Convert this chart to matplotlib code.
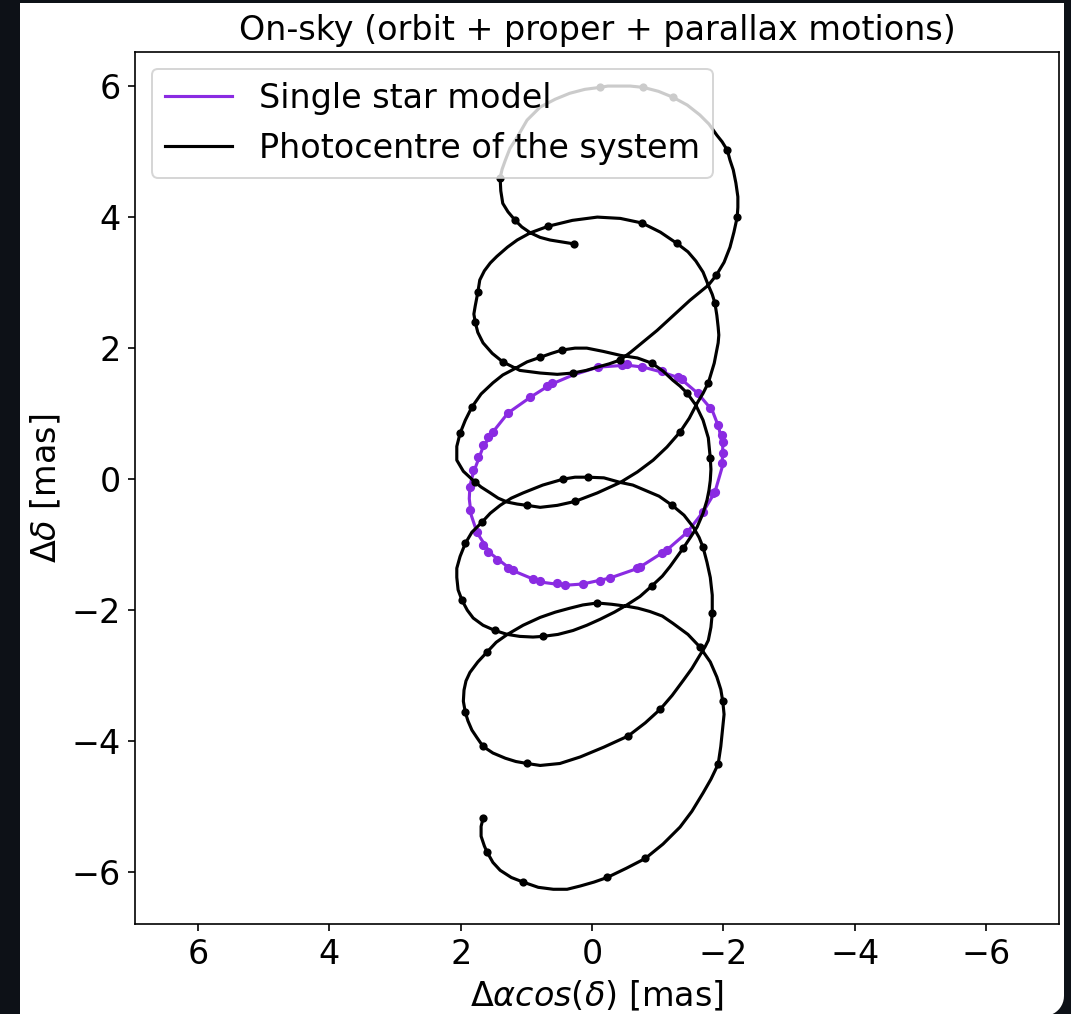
import matplotlib
matplotlib.use("Agg")
import matplotlib.pyplot as plt
from matplotlib.patches import PathPatch
from matplotlib.path import Path
import numpy as np

plt.rcParams['font.family'] = ['DejaVu Sans']
plt.rcParams['font.size'] = 16.7

# ---------------- data ----------------
# Photocentre of the system: continuous track (mas)
photo_x = [1.66, 1.69, 1.69, 1.64, 1.60, 1.51, 1.40, 1.23, 1.05, 0.82,
           0.59, 0.38, 0.18, -0.03, -0.23, -0.52, -0.81, -1.08, -1.34, -1.52,
           -1.69, -1.81, -1.92, -1.96, -1.99, -2.01, -1.99, -1.96, -1.90, -1.80,
           -1.64, -1.46, -1.23, -1.07, -0.88, -0.70, -0.53, -0.30, -0.08, 0.14,
           0.34, 0.56, 0.79, 1.05, 1.29, 1.46, 1.60, 1.74, 1.86, 1.92,
           1.95, 1.96, 1.93, 1.89, 1.83, 1.75, 1.66, 1.51, 1.32, 1.16,
           0.99, 0.79, 0.49, 0.18, -0.18, -0.55, -0.81, -1.04, -1.22, -1.39,
           -1.52, -1.64, -1.72, -1.77, -1.81, -1.83, -1.83, -1.80, -1.75, -1.69,
           -1.63, -1.54, -1.40, -1.22, -1.02, -0.81, -0.62, -0.43, -0.18, 0.06,
           0.26, 0.44, 0.75, 1.05, 1.23, 1.40, 1.55, 1.68, 1.83, 1.93,
           2.01, 2.06, 2.06, 2.04, 1.98, 1.90, 1.81, 1.66, 1.48, 1.29,
           1.10, 0.90, 0.75, 0.52, 0.29, 0.08, -0.12, -0.34, -0.53, -0.73,
           -0.91, -1.07, -1.19, -1.29, -1.39, -1.49, -1.60, -1.69, -1.75, -1.78,
           -1.80, -1.81, -1.80, -1.77, -1.69, -1.58, -1.45, -1.34, -1.23, -1.08,
           -0.91, -0.69, -0.43, -0.17, 0.08, 0.26, 0.46, 0.62, 0.79, 0.99,
           1.17, 1.36, 1.51, 1.69, 1.83, 1.93, 2.01, 2.06, 2.06, 1.96,
           1.81, 1.69, 1.55, 1.43, 1.29, 1.14, 0.99, 0.79, 0.53, 0.26,
           -0.08, -0.43, -0.69, -0.93, -1.14, -1.34, -1.48, -1.60, -1.69, -1.77,
           -1.86, -1.92, -1.93, -1.92, -1.90, -1.87, -1.83, -1.77, -1.69, -1.58,
           -1.46, -1.29, -1.04, -0.76, -0.43, -0.08, 0.30, 0.67, 0.94, 1.14,
           1.29, 1.45, 1.55, 1.64, 1.71, 1.74, 1.78, 1.80, 1.78, 1.74,
           1.66, 1.52, 1.36, 1.10, 0.79, 0.53, 0.29, 0.09, -0.08, -0.26,
           -0.43, -0.59, -0.76, -0.99, -1.23, -1.49, -1.77, -1.89, -2.01, -2.10,
           -2.16, -2.21, -2.22, -2.22, -2.19, -2.15, -2.10, -2.06, -1.98, -1.90,
           -1.78, -1.64, -1.45, -1.23, -1.01, -0.78, -0.58, -0.38, -0.24, -0.12,
           0.11, 0.34, 0.56, 0.79, 0.99, 1.14, 1.25, 1.32, 1.37, 1.40,
           1.39, 1.36, 1.28, 1.17, 1.07, 0.94, 0.79, 0.64, 0.46, 0.27]
photo_y = [-5.18, -5.30, -5.45, -5.60, -5.69, -5.85, -5.97, -6.08, -6.15, -6.23,
           -6.26, -6.26, -6.21, -6.15, -6.08, -5.94, -5.79, -5.57, -5.31, -5.07,
           -4.79, -4.58, -4.35, -4.08, -3.79, -3.59, -3.39, -3.21, -3.02, -2.79,
           -2.56, -2.37, -2.20, -2.09, -2.02, -1.97, -1.94, -1.91, -1.89, -1.92,
           -1.97, -2.03, -2.11, -2.23, -2.37, -2.49, -2.64, -2.79, -2.95, -3.08,
           -3.22, -3.39, -3.56, -3.69, -3.83, -3.95, -4.08, -4.18, -4.26, -4.31,
           -4.34, -4.37, -4.34, -4.24, -4.09, -3.92, -3.72, -3.51, -3.30, -3.07,
           -2.89, -2.69, -2.56, -2.46, -2.26, -2.05, -1.77, -1.50, -1.27, -1.04,
           -0.89, -0.73, -0.55, -0.40, -0.26, -0.17, -0.09, -0.05, 0.02, 0.03,
           0.03, 0.00, -0.09, -0.21, -0.29, -0.40, -0.52, -0.66, -0.81, -0.98,
           -1.18, -1.36, -1.50, -1.69, -1.85, -2.00, -2.12, -2.23, -2.31, -2.37,
           -2.40, -2.41, -2.40, -2.37, -2.31, -2.23, -2.14, -2.03, -1.92, -1.79,
           -1.63, -1.48, -1.33, -1.19, -1.05, -0.90, -0.73, -0.52, -0.32, -0.17,
           -0.02, 0.15, 0.32, 0.63, 0.90, 1.13, 1.31, 1.42, 1.51, 1.65,
           1.77, 1.85, 1.89, 1.95, 2.00, 2.00, 1.97, 1.92, 1.86, 1.79,
           1.69, 1.59, 1.47, 1.30, 1.10, 0.90, 0.70, 0.50, 0.29, 0.12,
           -0.02, -0.12, -0.21, -0.29, -0.35, -0.38, -0.40, -0.43, -0.40, -0.34,
           -0.21, -0.05, 0.11, 0.29, 0.49, 0.72, 0.93, 1.16, 1.31, 1.47,
           1.77, 2.08, 2.20, 2.32, 2.50, 2.69, 2.82, 2.96, 3.16, 3.33,
           3.47, 3.60, 3.77, 3.91, 3.98, 4.00, 3.95, 3.86, 3.76, 3.65,
           3.54, 3.40, 3.30, 3.18, 3.04, 2.85, 2.64, 2.52, 2.40, 2.24,
           2.08, 1.92, 1.79, 1.66, 1.62, 1.60, 1.62, 1.66, 1.71, 1.76,
           1.82, 1.94, 2.08, 2.27, 2.49, 2.73, 2.96, 3.11, 3.31, 3.54,
           3.77, 4.00, 4.15, 4.31, 4.52, 4.72, 4.87, 5.02, 5.15, 5.25,
           5.42, 5.56, 5.71, 5.83, 5.92, 5.98, 6.00, 6.00, 6.00, 5.98,
           5.95, 5.89, 5.80, 5.68, 5.48, 5.22, 5.05, 4.87, 4.73, 4.60,
           4.40, 4.21, 4.08, 3.95, 3.85, 3.76, 3.69, 3.65, 3.62, 3.59]

# Photocentre epochs (dots)
photo_dot_x = [1.659, 1.598, 1.050, -0.228, -0.807, -1.918, -1.994, -1.644, -0.076, 1.598,
               1.933, 1.659, 0.989, -0.548, -1.035, -1.826, -1.689, -1.218, 0.061, 0.441,
               1.674, 1.933, 1.979, 1.476, 0.746, -0.913, -1.385, -1.796, -1.446, -0.913,
               0.457, 0.791, 1.826, 2.009, 1.781, 0.989, 0.259, -1.339, -1.766, -1.872,
               -1.294, -0.761, 0.670, 1.735, 1.781, 1.355, 0.289, -0.426, -1.887, -2.207,
               -2.055, -1.233, -0.776, -0.122, 1.400, 1.172, 0.274]
photo_dot_y = [-5.176, -5.695, -6.153, -6.076, -5.786, -4.351, -3.389, -2.565, -1.893, -2.641,
               -3.557, -4.076, -4.336, -3.924, -3.511, -2.046, -1.038, -0.397, 0.031, 0.000,
               -0.656, -0.977, -1.847, -2.305, -2.397, -1.634, -1.053, 0.321, 1.313, 1.771,
               1.969, 1.863, 1.099, 0.702, -0.046, -0.397, -0.336, 0.718, 1.466, 2.687,
               3.603, 3.908, 3.863, 2.855, 2.400, 1.786, 1.618, 1.817, 3.115, 4.000,
               5.023, 5.832, 5.985, 5.985, 4.595, 3.954, 3.588]

# Single star model: closed track (mas)
single_x = [1.81, 1.66, 1.51, 1.28, 0.94, 0.64, 0.29, -0.09, -0.53, -0.78,
            -1.08, -1.34, -1.61, -1.83, -1.93, -1.99, -1.98, -1.87, -1.69, -1.45,
            -1.14, -0.70, -0.27, 0.14, 0.41, 0.79, 1.22, 1.55, 1.75, 1.84,
            1.87, 1.86, 1.81]
single_y = [0.09, 0.49, 0.72, 1.01, 1.25, 1.44, 1.59, 1.71, 1.74, 1.71,
            1.63, 1.54, 1.31, 1.05, 0.79, 0.49, 0.18, -0.20, -0.50, -0.81,
            -1.08, -1.36, -1.51, -1.60, -1.62, -1.57, -1.39, -1.13, -0.82, -0.55,
            -0.30, -0.10, 0.09]

# Single star model epochs (dots)
single_dot_x = [-0.091, -0.457, -0.533, -0.761, -1.065, -1.309, -1.370, -1.613, -1.796, -1.918,
                -1.979, -1.994, -1.994, -1.979, -1.872, -1.842, -1.689, -1.446, -1.142, -1.065,
                -0.731, -0.685, -0.274, -0.122, 0.137, 0.411, 0.533, 0.791, 0.898, 1.202,
                1.279, 1.446, 1.583, 1.659, 1.750, 1.857, 1.857, 1.811, 1.735, 1.659,
                1.583, 1.507, 1.279, 0.944, 0.685, 0.609]
single_dot_y = [1.710, 1.740, 1.756, 1.710, 1.649, 1.557, 1.527, 1.313, 1.084, 0.824,
                0.672, 0.565, 0.397, 0.244, -0.198, -0.214, -0.504, -0.809, -1.084, -1.130,
                -1.344, -1.359, -1.511, -1.557, -1.603, -1.618, -1.588, -1.557, -1.527, -1.389,
                -1.359, -1.237, -1.115, -1.008, -0.809, -0.473, -0.122, 0.137, 0.336, 0.519,
                0.641, 0.718, 1.008, 1.252, 1.420, 1.466]

x_ticks = [6, 4, 2, 0, -2, -4, -6]
y_ticks = [-6, -4, -2, 0, 2, 4, 6]

# ---------------- figure ----------------
W, H = 1071, 1014
DPI = 144
fig = plt.figure(figsize=(W / DPI, H / DPI), dpi=DPI, facecolor='#0d1117')

# white panel with rounded bottom-right corner (screenshot frame)
L, R, T, B, rad = 20, 1064, 3, 1016, 20
ang = np.linspace(0, np.pi / 2, 12)
pts = [(L, B), (R - rad, B)]
pts += [(R - rad + rad * np.sin(a), B - rad + rad * np.cos(a)) for a in ang]
pts += [(R, T), (L, T), (L, B)]
pts = [(px / W, 1 - py / H) for px, py in pts]
panel = PathPatch(Path(pts), facecolor='white', edgecolor='none',
                  transform=fig.transFigure, zorder=-10)
fig.patches.append(panel)

ax = fig.add_axes([135 / W, 1 - 924 / H, (1059 - 135) / W, (924 - 52) / H])
ax.set_zorder(5)

purple = '#8a2be2'
ax.plot(single_x, single_y, color=purple, lw=1.56, label='Single star model',
        solid_joinstyle='round')
ax.plot(single_dot_x, single_dot_y, 'o', color=purple, ms=3.6, ls='none')
ax.plot(photo_x, photo_y, color='black', lw=1.56, label='Photocentre of the system',
        solid_joinstyle='round')
ax.plot(photo_dot_x, photo_dot_y, 'o', color='black', ms=3.1, ls='none')

ax.set_xlim(6.96, -7.11)
ax.set_ylim(-6.79, 6.52)
ax.set_xticks(x_ticks)
ax.set_yticks(y_ticks)
ax.tick_params(labelsize=16.7, length=3.6, width=0.83)
for s in ax.spines.values():
    s.set_linewidth(0.83)
ax.set_title('On-sky (orbit + proper + parallax motions)', fontsize=16.7)
ax.set_xlabel(r'$\Delta\alpha cos(\delta)$ [mas]', fontsize=16.7)
ax.set_ylabel(r'$\Delta\delta$ [mas]', fontsize=16.7)
ax.legend(loc='upper left', fontsize=16.7)

fig.savefig('out.png', dpi=DPI, facecolor=fig.get_facecolor())
